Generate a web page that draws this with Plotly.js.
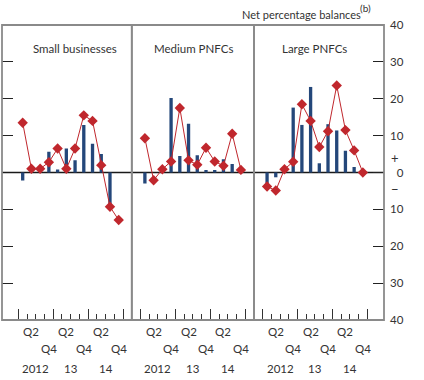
<!DOCTYPE html>
<html>
<head>
<meta charset="utf-8">
<script src="https://cdn.plot.ly/plotly-3.0.1.min.js"></script>
<style>html,body{margin:0;padding:0;background:#fff;}#chart{width:424px;height:380px;}</style>
</head>
<body>
<div id="chart"></div>
<script>
// Quarter index: 0 = 2012 Q1 ... 11 = 2014 Q4
const quarterIndex = [0, 1, 2, 3, 4, 5, 6, 7, 8, 9, 10, 11];
const panelTitles = ['Small businesses', 'Medium PNFCs', 'Large PNFCs'];

const smallBars = [-2.2, null, null, 5.6, 0.8, 6.5, 3.3, 12.9, 7.8, 5.0, -9.5, null];
const smallLine = [13.5, 1.0, 1.0, 2.8, 6.5, 1.0, 6.5, 15.5, 14.0, 2.0, -9.3, -12.9];

const mediumBars = [-3.0, null, null, 20.2, 4.5, 13.2, 4.7, 0.7, 0.7, 3.6, 2.3, null];
const mediumLine = [9.3, -2.1, 0.9, 3.0, 17.5, 3.3, 2.1, 6.7, 3.0, 1.8, 10.5, 0.7];

const largeBars = [-3.0, -1.3, null, 17.6, 12.9, 23.2, 2.5, 13.1, 11.4, 5.9, 1.5, null];
const largeLine = [-3.8, -4.9, 0.9, 2.9, 18.5, 14.0, 6.9, 11.2, 23.6, 11.5, 6.0, 0.0];

const quarterLabelPos = [1, 3, 5, 7, 9, 11];
const quarterLabels = ['Q2', 'Q4', 'Q2', 'Q4', 'Q2', 'Q4'];
const yearLabelPos = [1.5, 5.5, 9.5];
const yearLabels = ['2012', '13', '14'];

const yTickVals = [-40, -30, -20, -10, 0, 10, 20, 30, 40];
const yTickText = ['40', '30', '20', '10', '\u20070', '10', '20', '30', '40'];

const yearBoundaries = [-0.5, 3.5, 7.5, 11.5];
const quarterBoundaries = [-0.5, 0.5, 1.5, 2.5, 3.5, 4.5, 5.5, 6.5, 7.5, 8.5, 9.5, 10.5, 11.5];

const barColor = '#24477a';
const lineColor = '#c0272d';
const axes = ['x', 'x2', 'x3'];
const barsAll = [smallBars, mediumBars, largeBars];
const linesAll = [smallLine, mediumLine, largeLine];

const traces = [];
for (let i = 0; i < 3; i++) {
  traces.push({
    type: 'bar', x: quarterIndex, y: barsAll[i], xaxis: axes[i], yaxis: 'y',
    width: 0.38, marker: {color: barColor, line: {width: 0}}, hoverinfo: 'skip'
  });
}
for (let i = 0; i < 3; i++) {
  traces.push({
    type: 'scatter', mode: 'lines+markers', x: quarterIndex, y: linesAll[i], xaxis: axes[i], yaxis: 'y',
    line: {color: lineColor, width: 1},
    marker: {symbol: 'diamond', size: 8, color: lineColor, line: {width: 0}},
    hoverinfo: 'skip'
  });
}
// invisible trace so the left-side tick axis is drawn
traces.push({type: 'scatter', mode: 'markers', x: [0], y: [0], xaxis: 'x', yaxis: 'y2',
  marker: {opacity: 0}, hoverinfo: 'skip', showlegend: false});

function xAxis(domain, range) {
  return {
    domain: domain, range: range, anchor: 'y',
    showgrid: false, zeroline: false, showline: false,
    tickmode: 'array', tickvals: yearBoundaries,
    ticks: 'inside', ticklen: 11, tickwidth: 1, tickcolor: '#333',
    showticklabels: false,
    minor: {tickmode: 'array', tickvals: quarterBoundaries, ticks: 'inside', ticklen: 6, tickwidth: 1, tickcolor: '#333', showgrid: false},
    fixedrange: true
  };
}

const annotations = [];
const titleX = [0.1924, 0.5, 0.8168];
for (let i = 0; i < 3; i++) {
  annotations.push({text: panelTitles[i], xref: 'paper', yref: 'paper', x: titleX[i], y: 0.922,
    xanchor: 'center', yanchor: 'middle', showarrow: false, font: {size: 11.5, color: '#333'}});
  for (let k = 0; k < quarterLabelPos.length; k++) {
    annotations.push({text: quarterLabels[k], xref: axes[i], yref: 'paper', x: quarterLabelPos[k],
      y: (k % 2 === 0) ? -0.04 : -0.096, xanchor: 'center', yanchor: 'middle', showarrow: false,
      font: {size: 11.5, color: '#333'}});
  }
  for (let k = 0; k < yearLabelPos.length; k++) {
    annotations.push({text: yearLabels[k], xref: axes[i], yref: 'paper', x: yearLabelPos[k],
      y: -0.164, xanchor: 'center', yanchor: 'middle', showarrow: false,
      font: {size: 11.5, color: '#333'}});
  }
}
annotations.push({text: 'Net percentage balances', xref: 'paper', yref: 'paper',
  x: 0.9450, y: 1.034, xanchor: 'right', yanchor: 'middle', showarrow: false, font: {size: 11, color: '#333'}});
annotations.push({text: '(b)', xref: 'paper', yref: 'paper',
  x: 0.9320, y: 1.056, xanchor: 'left', yanchor: 'middle', showarrow: false, font: {size: 10, color: '#333'}});
annotations.push({text: '+', xref: 'paper', yref: 'y', x: 1.0288, y: 3.9, xanchor: 'center', yanchor: 'middle',
  showarrow: false, font: {size: 13, color: '#333'}});
annotations.push({text: '\u2212', xref: 'paper', yref: 'y', x: 1.0288, y: -4.5, xanchor: 'center', yanchor: 'middle',
  showarrow: false, font: {size: 13, color: '#333'}});

const shapes = [];
shapes.push({type: 'line', xref: 'paper', yref: 'y', x0: 0, x1: 1, y0: 0, y1: 0,
  line: {color: '#1a1a1a', width: 1.3}, layer: 'below'});
for (let i = 0; i < 3; i++) {
  shapes.push({type: 'rect', xref: axes[i] + ' domain', yref: 'y domain', x0: 0, x1: 1, y0: 0, y1: 1,
    line: {color: '#8a8a8a', width: 1.8}, fillcolor: 'rgba(0,0,0,0)', layer: 'above'});
}

const layout = {
  width: 424, height: 380,
  margin: {l: 2, r: 40, t: 25, b: 60, pad: 0},
  paper_bgcolor: '#fff', plot_bgcolor: '#fff',
  showlegend: false,
  font: {family: 'Lato, "Open Sans", sans-serif', size: 11.5, color: '#333'},
  xaxis: xAxis([0, 0.3398], [-2.37, 12.5]),
  xaxis2: xAxis([0.3398, 0.6597], [-1.5, 12.5]),
  xaxis3: xAxis([0.6597, 1], [-1.5, 13.43]),
  yaxis: {
    anchor: 'x3', side: 'right', range: [-40, 40],
    tickmode: 'array', tickvals: yTickVals, ticktext: yTickText,
    ticks: 'inside', ticklen: 11, tickwidth: 1.2, tickcolor: '#222',
    showgrid: false, zeroline: false, showline: false,
    ticklabelstandoff: 5, tickfont: {size: 11.5, color: '#333'}, fixedrange: true
  },
  yaxis2: {
    overlaying: 'y', anchor: 'x', side: 'left', range: [-40, 40],
    tickmode: 'array', tickvals: [-30, -20, -10, 10, 20, 30],
    ticks: 'inside', ticklen: 11, tickwidth: 1.2, tickcolor: '#222',
    showticklabels: false, showgrid: false, zeroline: false, showline: false, fixedrange: true
  },
  annotations: annotations,
  shapes: shapes
};

Plotly.newPlot('chart', traces, layout, {displayModeBar: false, staticPlot: true});
</script>
</body>
</html>
